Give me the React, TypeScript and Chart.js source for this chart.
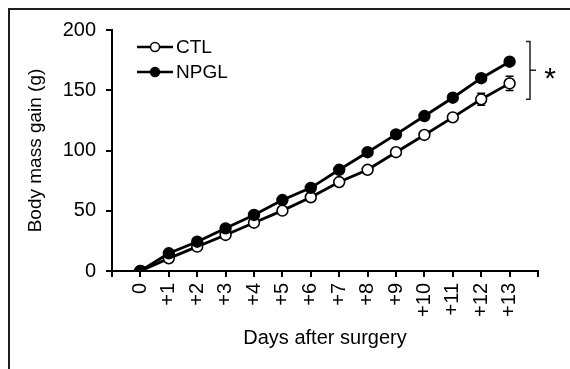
import React, { useEffect, useRef } from 'react';
import { Chart, registerables } from 'chart.js';

Chart.register(...registerables);

// ---- data ----
const days = [0, 1, 2, 3, 4, 5, 6, 7, 8, 9, 10, 11, 12, 13];
const dayLabels = ['0', '+1', '+2', '+3', '+4', '+5', '+6', '+7', '+8', '+9', '+10', '+11', '+12', '+13'];
const seriesNames = ['CTL', 'NPGL'];
const ctlValues = [0, 10.5, 20.2, 29.9, 40.1, 50.1, 61.2, 73.8, 84, 98.6, 112.9, 127.5, 142.5, 155.7];
const ctlErrors = [0, 1, 1, 1.2, 1.5, 1.8, 2, 2.2, 2.5, 2.5, 2.8, 3, 5, 6];
const npglValues = [0, 14.7, 24.3, 35.4, 46.5, 58.9, 69, 84, 98.6, 113.4, 128.6, 143.8, 160, 173.7];
const npglErrors = [0, 1.2, 1.5, 1.8, 2, 2.2, 2.4, 2.5, 2.6, 2.7, 2.8, 2.9, 3, 3];
const yTickValues = [0, 50, 100, 150, 200];
const yTitle = 'Body mass gain (g)';
const xTitle = 'Days after surgery';
const sigRange = [142.5, 190.5];
const sigLabel = '*';

const FONT = "'Liberation Sans', Arial, sans-serif";

const framePlugin = {
  id: 'frame',
  beforeDraw(chart: any) {
    const { ctx } = chart;
    ctx.save();
    ctx.fillStyle = '#fff';
    ctx.fillRect(0, 0, chart.width, chart.height);
    ctx.fillStyle = '#1e1e1e';
    ctx.fillRect(8, 8, 2, chart.height - 8);
    ctx.fillRect(8, 8, chart.width - 8, 2);
    ctx.restore();
  },
};

const errorBarPlugin = {
  id: 'errorBars',
  beforeDatasetsDraw(chart: any) {
    const { ctx, scales } = chart;
    const x = scales.x;
    const y = scales.y;
    ctx.save();
    ctx.strokeStyle = '#000';
    ctx.lineWidth = 1.5;
    chart.data.datasets.forEach((ds: any) => {
      const errs: number[] = ds.errors || [];
      ds.data.forEach((pt: any, i: number) => {
        const e = errs[i] || 0;
        if (!e) return;
        const px = x.getPixelForValue(pt.x);
        const top = y.getPixelForValue(pt.y + e);
        const bot = y.getPixelForValue(pt.y - e);
        ctx.beginPath();
        ctx.moveTo(px, top);
        ctx.lineTo(px, bot);
        ctx.moveTo(px - 4, top);
        ctx.lineTo(px + 4, top);
        ctx.moveTo(px - 4, bot);
        ctx.lineTo(px + 4, bot);
        ctx.stroke();
      });
    });
    ctx.restore();
  },
};

const legendPlugin = {
  id: 'customLegend',
  afterDraw(chart: any) {
    const { ctx, chartArea } = chart;
    const x0 = chartArea.left + 25;
    const rows = [47, 72];
    ctx.save();
    seriesNames.forEach((name, i) => {
      const yy = rows[i];
      ctx.strokeStyle = '#000';
      ctx.lineWidth = 2.5;
      ctx.beginPath();
      ctx.moveTo(x0, yy);
      ctx.lineTo(x0 + 36, yy);
      ctx.stroke();
      ctx.beginPath();
      ctx.arc(x0 + 18, yy, 4.5, 0, Math.PI * 2);
      ctx.fillStyle = i === 0 ? '#fff' : '#000';
      ctx.fill();
      ctx.lineWidth = 1.5;
      ctx.stroke();
      ctx.fillStyle = '#000';
      ctx.font = `19px ${FONT}`;
      ctx.textAlign = 'left';
      ctx.textBaseline = 'middle';
      ctx.fillText(name, x0 + 39, yy + 1);
    });
    ctx.restore();
  },
};

const sigPlugin = {
  id: 'sig',
  afterDraw(chart: any) {
    const { ctx, chartArea, scales } = chart;
    const y = scales.y;
    const xv = chartArea.right - 8;
    const yTop = y.getPixelForValue(sigRange[1]);
    const yBot = y.getPixelForValue(sigRange[0]);
    const yMid = (yTop + yBot) / 2;
    ctx.save();
    ctx.strokeStyle = '#222';
    ctx.lineWidth = 1.5;
    ctx.beginPath();
    ctx.moveTo(xv - 4, yTop);
    ctx.lineTo(xv, yTop);
    ctx.lineTo(xv, yBot);
    ctx.lineTo(xv - 4, yBot);
    ctx.moveTo(xv, yMid);
    ctx.lineTo(xv + 6, yMid);
    ctx.stroke();
    ctx.fillStyle = '#000';
    ctx.font = `30px ${FONT}`;
    ctx.textAlign = 'center';
    ctx.textBaseline = 'alphabetic';
    ctx.fillText(sigLabel, xv + 20, yMid + 18);
    ctx.restore();
  },
};

export default function App() {
  const ref = useRef<HTMLCanvasElement | null>(null);

  useEffect(() => {
    if (!ref.current) return;
    const chart = new Chart(ref.current, {
      type: 'line',
      data: {
        datasets: [
          {
            label: seriesNames[0],
            data: days.map((d, i) => ({ x: d, y: ctlValues[i] })),
            errors: ctlErrors,
            borderColor: '#000',
            borderWidth: 2.8,
            pointRadius: 5.4,
            pointBorderWidth: 1.6,
            pointBackgroundColor: '#fff',
            pointBorderColor: '#000',
            order: 1,
          } as any,
          {
            label: seriesNames[1],
            data: days.map((d, i) => ({ x: d, y: npglValues[i] })),
            errors: npglErrors,
            borderColor: '#000',
            borderWidth: 2.8,
            pointRadius: 5.4,
            pointBorderWidth: 1.6,
            pointBackgroundColor: '#000',
            pointBorderColor: '#000',
            order: 0,
          } as any,
        ],
      },
      options: {
        responsive: false,
        animation: false,
        layout: { padding: { top: 30, right: 32, left: 0, bottom: 0 } },
        plugins: {
          legend: { display: false },
          tooltip: { enabled: false },
        },
        scales: {
          x: {
            type: 'linear',
            min: -1,
            max: 14,
            afterFit: (s: any) => {
              s.height = 98;
            },
            afterBuildTicks: (s: any) => {
              const t = [{ value: -1 }];
              days.forEach((d) => t.push({ value: d }));
              t.push({ value: 14 });
              s.ticks = t;
            },
            ticks: {
              autoSkip: false,
              minRotation: 90,
              maxRotation: 90,
              padding: 6,
              color: '#000',
              font: { family: FONT, size: 20 },
              callback: (v: any) => {
                const i = days.indexOf(Number(v));
                return i >= 0 ? dayLabels[i] : '';
              },
            },
            grid: {
              drawOnChartArea: false,
              drawTicks: true,
              tickLength: 6,
              color: '#000',
              lineWidth: 2,
            },
            border: { display: true, color: '#000', width: 2 },
            title: {
              display: true,
              text: xTitle,
              color: '#000',
              font: { family: FONT, size: 20 },
              padding: { top: 0, bottom: 19 },
            },
          },
          y: {
            type: 'linear',
            min: 0,
            max: 200,
            afterFit: (s: any) => {
              s.width = 112;
            },
            afterBuildTicks: (s: any) => {
              s.ticks = yTickValues.map((v) => ({ value: v }));
            },
            ticks: {
              padding: 10,
              color: '#000',
              font: { family: FONT, size: 20 },
            },
            grid: {
              drawOnChartArea: false,
              drawTicks: true,
              tickLength: 6,
              color: '#000',
              lineWidth: 2,
            },
            border: { display: true, color: '#000', width: 2 },
            title: {
              display: true,
              text: yTitle,
              color: '#000',
              font: { family: FONT, size: 19 },
              padding: { top: 24, bottom: 0 },
            },
          },
        },
      } as any,
      plugins: [framePlugin, errorBarPlugin, legendPlugin, sigPlugin],
    });
    return () => chart.destroy();
  }, []);

  return (
    <div style={{ position: 'fixed', left: 0, top: 0, width: 570, height: 369 }}>
      <canvas ref={ref} width={570} height={369} style={{ display: 'block' }} />
    </div>
  );
}
